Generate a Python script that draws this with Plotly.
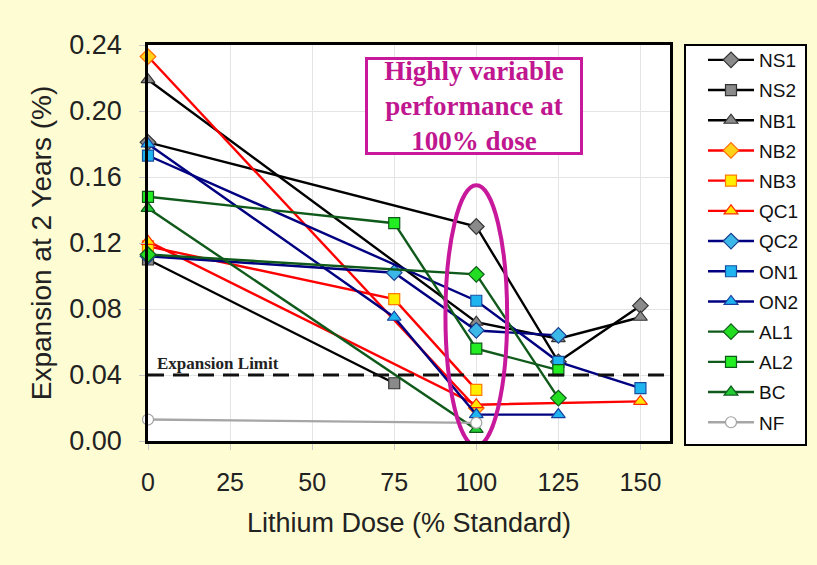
import plotly.graph_objects as go

doses = [0, 75, 100, 125, 150]

NS1 = [0.181, None, 0.130, 0.048, 0.082]
NS2 = [0.110, 0.035, None, None, None]
NB1 = [0.219, None, 0.072, 0.062, 0.075]
NB2 = [0.233, None, 0.020, None, None]
NB3 = [0.118, 0.086, 0.031, None, None]
QC1 = [0.121, None, 0.022, None, 0.024]
QC2 = [0.112, 0.102, 0.067, 0.064, None]
ON1 = [0.173, None, 0.085, 0.048, 0.032]
ON2 = [0.180, 0.075, 0.016, 0.016, None]
AL1 = [0.113, None, 0.101, 0.026, None]
AL2 = [0.148, 0.132, 0.056, 0.043, None]
BC = [0.141, None, 0.007, None, None]
NF = [0.013, None, 0.011, None, None]

series_names = ["NS1", "NS2", "NB1", "NB2", "NB3", "QC1", "QC2", "ON1", "ON2", "AL1", "AL2", "BC", "NF"]
series_values = [NS1, NS2, NB1, NB2, NB3, QC1, QC2, ON1, ON2, AL1, AL2, BC, NF]

expansion_limit = 0.04
x_ticks = [0, 25, 50, 75, 100, 125, 150]
y_ticks = [0.00, 0.04, 0.08, 0.12, 0.16, 0.20, 0.24]

# styles: (line color, marker symbol, marker fill, marker outline, size)
styles = {
    "NS1": ("#000000", "diamond", "#8a8a8a", "#333333", 12),
    "NS2": ("#000000", "square", "#8a8a8a", "#333333", 11),
    "NB1": ("#000000", "triangle-up", "#8a8a8a", "#333333", 12),
    "NB2": ("#ff0000", "diamond", "#ffd21a", "#ff6a00", 12),
    "NB3": ("#ff0000", "square", "#ffee00", "#ff7a00", 11),
    "QC1": ("#ff0000", "triangle-up", "#ffe600", "#ff2a00", 12),
    "QC2": ("#000080", "diamond", "#3cb8e8", "#1a3f8f", 12),
    "ON1": ("#000080", "square", "#1eb4f0", "#1a4fa0", 11),
    "ON2": ("#000080", "triangle-up", "#1eb4f0", "#1a3f9f", 12),
    "AL1": ("#0f5a1a", "diamond", "#22dd22", "#0f5a1a", 12),
    "AL2": ("#0f5a1a", "square", "#22ee22", "#0f5a1a", 11),
    "BC": ("#0f5a1a", "triangle-up", "#22cc33", "#0f5a1a", 12),
    "NF": ("#a6a6a6", "circle", "#ffffff", "#a0a0a0", 11),
}

fig = go.Figure()
for i, (name, vals) in enumerate(zip(series_names, series_values)):
    lc, sym, fill, outline, size = styles[name]
    fig.add_trace(go.Scatter(
        x=doses, y=vals, name=name, mode="lines+markers",
        connectgaps=True, cliponaxis=False,
        legendgroup=name,
        line=dict(color=lc, width=2.4),
        marker=dict(symbol=sym, size=size, color=fill, line=dict(color=outline, width=1.2)),
    ))

magenta = "#c8189b"
PL, PR, PT, PB = 148, 670, 45, 441
W, H = 817, 565

def px_to_paper_x(px):
    return (px - PL) / (PR - PL)

def px_to_paper_y(py):
    return (PB - py) / (PB - PT)

shapes = [
    # expansion limit dashed line
    dict(type="line", xref="x", yref="y", x0=0, x1=159, y0=expansion_limit, y1=expansion_limit,
         line=dict(color="#111111", width=3, dash="16px,9px"), layer="above"),
    # highlight ellipse at 100% dose
    dict(type="circle", xref="x", yref="y", x0=90.6, x1=109.4, y0=-0.003, y1=0.155,
         line=dict(color=magenta, width=4), layer="above"),
    # legend frame
    dict(type="rect", xref="paper", yref="paper",
         x0=px_to_paper_x(685), x1=px_to_paper_x(806),
         y0=px_to_paper_y(445), y1=px_to_paper_y(45),
         line=dict(color="#000000", width=2), fillcolor="#ffffff", layer="below"),
]

annotations = [
    dict(text="<b>Expansion Limit</b>", xref="x", yref="y", x=2, y=expansion_limit + 0.0003,
         xanchor="left", yanchor="bottom", showarrow=False,
         font=dict(family="Liberation Serif", size=17, color="#222222")),
    dict(text="<b>Highly variable<br>performance at<br>100% dose</b>", xref="x", yref="y",
         x=99.4, y=0.203, showarrow=False, align="center",
         width=212, height=92, borderpad=0, borderwidth=3, bordercolor=magenta,
         bgcolor="#ffffff",
         font=dict(family="Liberation Serif", size=27, color="#c0168f")),
]

fig.update_layout(
    width=W, height=H,
    margin=dict(l=PL, r=W - PR, t=PT, b=H - PB),
    paper_bgcolor="#fefcd2",
    plot_bgcolor="#ffffff",
    font=dict(family="Liberation Sans", color="#222222"),
    shapes=shapes,
    annotations=annotations,
    showlegend=True,
    legend=dict(
        x=px_to_paper_x(703), y=px_to_paper_y(41), xanchor="left", yanchor="top",
        bgcolor="rgba(0,0,0,0)", borderwidth=0, maxheight=520,
        font=dict(family="Liberation Sans", size=19, color="#111111"),
        traceorder="grouped", tracegroupgap=2.5, itemwidth=46,
    ),
    xaxis=dict(
        range=[0, 159], tickvals=x_ticks, ticktext=[str(v) for v in x_ticks],
        showgrid=True, gridcolor="#e4e4e4", gridwidth=1,
        showline=True, linecolor="#000000", linewidth=2.5, mirror=True,
        ticks="outside", ticklen=6, tickcolor="#c8c8c8",
        tickfont=dict(size=25), ticklabelstandoff=11,
        zeroline=False,
        title=dict(text="Lithium Dose (% Standard)", font=dict(size=27), standoff=19),
    ),
    yaxis=dict(
        range=[0, 0.24], tickvals=y_ticks, ticktext=[f"{v:.2f}" for v in y_ticks],
        showgrid=True, gridcolor="#e4e4e4", gridwidth=1,
        showline=True, linecolor="#000000", linewidth=2.5, mirror=True,
        ticks="outside", ticklen=6, tickcolor="#c8c8c8",
        tickfont=dict(size=27), ticklabelstandoff=12,
        zeroline=False,
        title=dict(text="Expansion at 2 Years (%)", font=dict(size=28), standoff=10),
    ),
)

fig.write_html(
    "out.html",
    config={"displayModeBar": False},
    post_script="document.body.style.margin='0';document.body.style.padding='0';document.body.style.overflow='hidden';",
)
